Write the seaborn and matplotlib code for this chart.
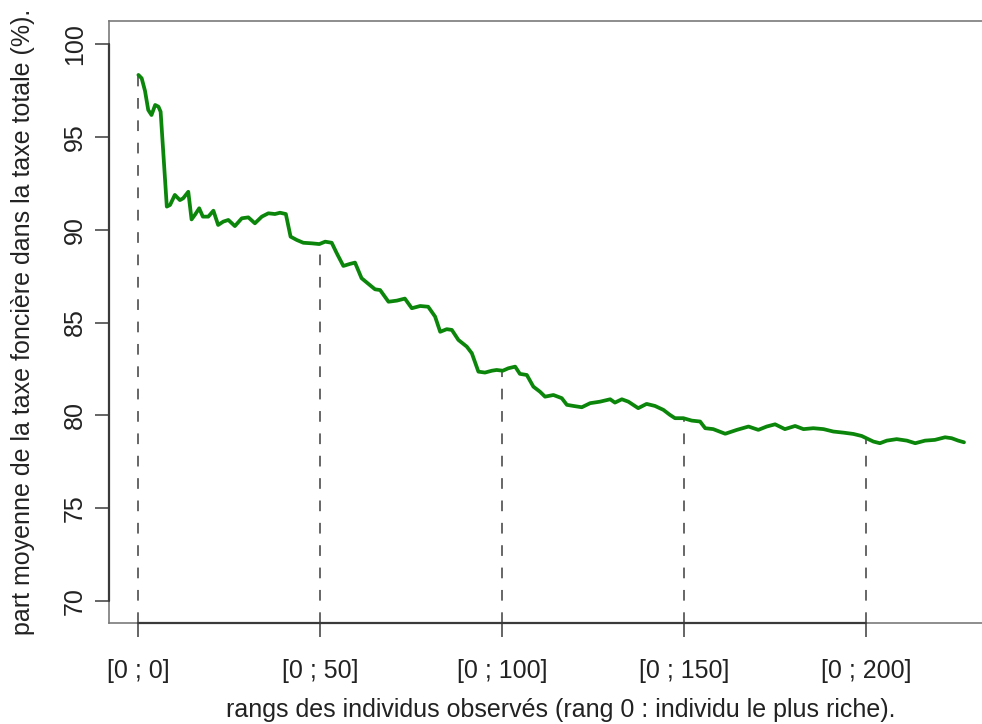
import matplotlib
matplotlib.use('Agg')
import matplotlib.pyplot as plt
import numpy as np
import pandas as pd
import seaborn as sns

rank = [0, 0.9, 1.8, 2.7, 3.6, 4.6, 5.5, 6.1, 7.8, 8.7, 10.0, 11.4, 12.3, 13.7, 14.6, 15.5,
        16.7, 17.7, 19.2, 20.6, 21.9, 23.3, 24.7, 26.5, 28.4, 30.2, 32.0, 33.9, 35.7, 37.5,
        38.9, 40.5, 41.8, 43.5, 45.3, 47.6, 49.7, 51.3, 53.1, 54.5, 56.3, 58.1, 59.5, 61.3,
        63.2, 65.0, 66.4, 68.7, 71.0, 73.2, 75.1, 77.4, 79.6, 81.5, 82.9, 84.7, 86.1, 87.9,
        90.2, 91.6, 93.4, 95.2, 97.1, 98.4, 100.1, 101.6, 103.5, 104.8, 106.7, 108.5, 110.3,
        111.7, 114.0, 116.3, 117.7, 119.5, 121.8, 124.1, 126.8, 129.6, 130.9, 132.8, 134.6,
        137.3, 139.6, 141.9, 144.2, 146.0, 147.4, 149.7, 152.0, 154.3, 155.7, 157.9, 161.2,
        164.4, 167.6, 170.3, 172.6, 174.9, 177.6, 180.4, 182.7, 185.4, 188.2, 190.9, 193.7,
        196.4, 198.7, 200.5, 201.9, 203.7, 205.6, 208.3, 211.1, 213.4, 216.1, 218.8, 221.6,
        223.4, 225.2, 226.8]
share = [98.35, 98.17, 97.5, 96.46, 96.19, 96.73, 96.64, 96.37, 91.25, 91.34, 91.88, 91.6,
         91.7, 92.05, 90.56, 90.8, 91.16, 90.71, 90.71, 91.03, 90.26, 90.44, 90.53, 90.2,
         90.62, 90.67, 90.35, 90.71, 90.89, 90.85, 90.92, 90.85, 89.63, 89.45, 89.3, 89.27,
         89.23, 89.36, 89.3, 88.73, 88.05, 88.16, 88.23, 87.39, 87.08, 86.79, 86.75, 86.12,
         86.18, 86.29, 85.77, 85.89, 85.85, 85.32, 84.5, 84.64, 84.6, 84.06, 83.7, 83.34,
         82.35, 82.3, 82.4, 82.44, 82.4, 82.53, 82.62, 82.23, 82.17, 81.54, 81.27, 81.0,
         81.09, 80.92, 80.56, 80.5, 80.43, 80.65, 80.73, 80.86, 80.68, 80.86, 80.73, 80.38,
         80.61, 80.5, 80.29, 80.02, 79.84, 79.84, 79.71, 79.66, 79.3, 79.25, 79.0, 79.21,
         79.39, 79.21, 79.39, 79.51, 79.25, 79.42, 79.25, 79.3, 79.25, 79.12, 79.06, 78.99,
         78.88, 78.71, 78.58, 78.49, 78.63, 78.71, 78.63, 78.49, 78.63, 78.67, 78.81, 78.76,
         78.63, 78.54]

# dashed reference marks
mark_rank = [0, 50, 100, 150, 200]
mark_share = [98.3, 89.2, 82.4, 79.8, 78.8]
tick_labels = ['[0 ; 0]', '[0 ; 50]', '[0 ; 100]', '[0 ; 150]', '[0 ; 200]']
y_ticks = [70, 75, 80, 85, 90, 95, 100]

df = pd.DataFrame({'rang': rank, 'part': share})

sns.set_theme(style='white')
plt.rcParams['font.family'] = ['Liberation Sans', 'DejaVu Sans']

fig = plt.figure(figsize=(9.82, 7.24), dpi=100)
ax = fig.add_axes([0.1110, 0.1399, 0.9196, 0.8311])

ymin, ymax = 68.81, 101.26
xmin, xmax = -8.08, 240

ax.vlines(mark_rank, ymin, mark_share, colors='#666666', linewidth=1.4,
          linestyles=[(0, (5.5, 6.0))])
sns.lineplot(data=df, x='rang', y='part', ax=ax, color='#0b860b', linewidth=2.7,
             estimator=None, sort=False)

ax.set_xlim(xmin, xmax)
ax.set_ylim(ymin, ymax)

for s in ax.spines.values():
    s.set_color('#7a7a7a')
    s.set_linewidth(1.2)

# R style axis lines from first to last tick
ax.plot([0, 200], [ymin, ymin], color='#3a3a3a', lw=1.6, clip_on=False, zorder=5)
ax.plot([xmin, xmin], [70, 100], color='#3a3a3a', lw=1.6, clip_on=False, zorder=5)

ax.set_xticks(mark_rank)
ax.set_xticklabels(tick_labels)
ax.set_yticks(y_ticks)
ax.set_yticklabels([str(v) for v in y_ticks], rotation=90, va='center')
ax.tick_params(axis='both', direction='out', length=10, width=1.1, color='#3a3a3a',
               labelsize=18, labelcolor='#222222', bottom=True, left=True)
ax.tick_params(axis='x', pad=16)
ax.tick_params(axis='y', pad=6)

ax.set_xlabel('rangs des individus observés (rang 0 : individu le plus riche).',
              fontsize=18, color='#222222', labelpad=11)
ax.set_ylabel('part moyenne de la taxe foncière dans la taxe totale (%).',
              fontsize=18, color='#222222', labelpad=20)
ax.grid(False)

fig.savefig('out.png', dpi=100)
